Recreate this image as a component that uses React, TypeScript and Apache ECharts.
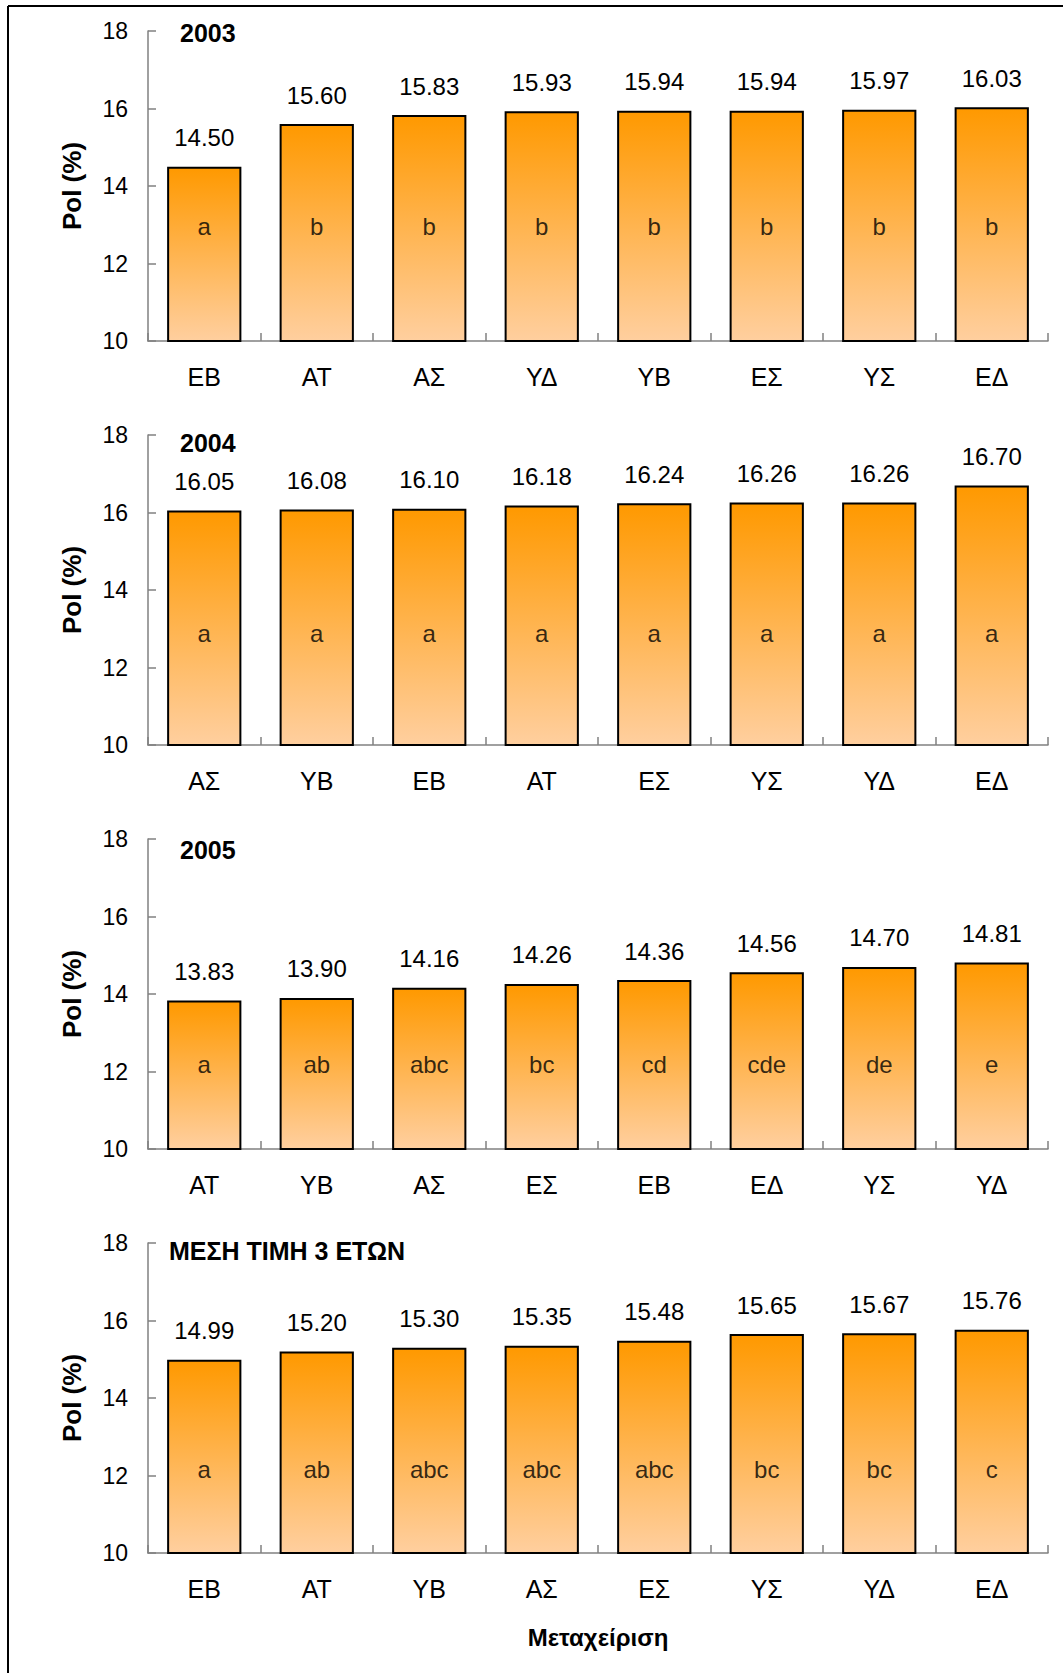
import React, { useEffect, useRef } from "react";
import * as echarts from "echarts";

const panelTitles = ["2003", "2004", "2005", "ΜΕΣΗ ΤΙΜΗ 3 ΕΤΩΝ"];

const categories2003 = ["ΕΒ", "ΑΤ", "ΑΣ", "ΥΔ", "ΥΒ", "ΕΣ", "ΥΣ", "ΕΔ"];
const values2003 = [14.5, 15.6, 15.83, 15.93, 15.94, 15.94, 15.97, 16.03];
const letters2003 = ["a", "b", "b", "b", "b", "b", "b", "b"];

const categories2004 = ["ΑΣ", "ΥΒ", "ΕΒ", "ΑΤ", "ΕΣ", "ΥΣ", "ΥΔ", "ΕΔ"];
const values2004 = [16.05, 16.08, 16.1, 16.18, 16.24, 16.26, 16.26, 16.7];
const letters2004 = ["a", "a", "a", "a", "a", "a", "a", "a"];

const categories2005 = ["ΑΤ", "ΥΒ", "ΑΣ", "ΕΣ", "ΕΒ", "ΕΔ", "ΥΣ", "ΥΔ"];
const values2005 = [13.83, 13.9, 14.16, 14.26, 14.36, 14.56, 14.7, 14.81];
const letters2005 = ["a", "ab", "abc", "bc", "cd", "cde", "de", "e"];

const categoriesMean = ["ΕΒ", "ΑΤ", "ΥΒ", "ΑΣ", "ΕΣ", "ΥΣ", "ΥΔ", "ΕΔ"];
const valuesMean = [14.99, 15.2, 15.3, 15.35, 15.48, 15.65, 15.67, 15.76];
const lettersMean = ["a", "ab", "abc", "abc", "abc", "bc", "bc", "c"];

const yMin = 10;
const yMax = 18;
const yInterval = 2;
const yAxisTitle = "Pol (%)";
const xAxisTitle = "Μεταχείριση";

const panelCategories = [categories2003, categories2004, categories2005, categoriesMean];
const panelValues = [values2003, values2004, values2005, valuesMean];
const panelLetters = [letters2003, letters2004, letters2005, lettersMean];

// layout (not data)
const GRID_TOPS = [31, 435, 839, 1243];
const GRID_HEIGHT = 310;
const LETTER_LEVEL = [12.95, 12.87, 12.18, 12.15];
const TITLE_LEFT = [180, 180, 180, 169];
const TITLE_TOP = [20, 430, 837, 1238];

const FONT = "'Liberation Sans', Arial, Helvetica, sans-serif";
const AXIS_GRAY = "#808080";

export default function App() {
  const ref = useRef<HTMLDivElement>(null);

  useEffect(() => {
    if (!ref.current) return;
    const chart = echarts.init(ref.current, undefined, { renderer: "svg" });

    const barColor = new echarts.graphic.LinearGradient(0, 0, 0, 1, [
      { offset: 0, color: "#FF9900" },
      { offset: 1, color: "#FFCF9F" },
    ]);

    const grids = GRID_TOPS.map((t) => ({ left: 148, right: 15, top: t, height: GRID_HEIGHT }));

    const xAxes = panelCategories.map((cats, i) => ({
      type: "category",
      gridIndex: i,
      data: cats,
      axisLine: { show: true, lineStyle: { color: AXIS_GRAY, width: 1.5 } },
      axisTick: { show: true, inside: true, length: 8, lineStyle: { color: AXIS_GRAY, width: 1.5 } },
      axisLabel: { margin: 23, fontSize: 25, color: "#000", fontFamily: FONT },
      ...(i === 3
        ? {
            name: xAxisTitle,
            nameLocation: "middle",
            nameGap: 72,
            nameTextStyle: { fontSize: 24, fontWeight: "bold", color: "#000", fontFamily: FONT },
          }
        : {}),
    }));

    const yAxes = panelCategories.map((_, i) => ({
      type: "value",
      gridIndex: i,
      min: yMin,
      max: yMax,
      interval: yInterval,
      axisLine: { show: true, lineStyle: { color: AXIS_GRAY, width: 1.5 } },
      axisTick: { show: true, inside: true, length: 8, lineStyle: { color: AXIS_GRAY, width: 1.5 } },
      axisLabel: { margin: 20, fontSize: 23, color: "#000", fontFamily: FONT },
      splitLine: { show: false },
      name: yAxisTitle,
      nameLocation: "middle",
      nameGap: 63,
      nameTextStyle: { fontSize: 26, fontWeight: "bold", color: "#000", fontFamily: FONT },
    }));

    const series: any[] = [];
    panelValues.forEach((vals, i) => {
      series.push({
        type: "bar",
        xAxisIndex: i,
        yAxisIndex: i,
        data: vals,
        barCategoryGap: "34%",
        itemStyle: { color: barColor, borderColor: "#000", borderWidth: 2 },
        label: {
          show: true,
          position: "top",
          distance: 17,
          fontSize: 24,
          color: "#000",
          fontFamily: FONT,
          formatter: (p: any) => Number(p.value).toFixed(2),
        },
        z: 2,
      });
      series.push({
        type: "scatter",
        xAxisIndex: i,
        yAxisIndex: i,
        data: panelLetters[i].map(() => LETTER_LEVEL[i]),
        symbolSize: 0,
        silent: true,
        label: {
          show: true,
          position: "inside",
          fontSize: 24,
          color: "#000",
          fontFamily: FONT,
          formatter: (p: any) => panelLetters[i][p.dataIndex],
        },
        z: 5,
      });
    });

    chart.setOption({
      animation: false,
      backgroundColor: "#fff",
      title: panelTitles.map((t, i) => ({
        text: t,
        left: TITLE_LEFT[i],
        top: TITLE_TOP[i],
        padding: 0,
        textStyle: { fontSize: 25, fontWeight: "bold", color: "#000", fontFamily: FONT },
      })),
      grid: grids,
      xAxis: xAxes,
      yAxis: yAxes,
      series,
      graphic: [
        { type: "line", shape: { x1: 8, y1: 6, x2: 1063, y2: 6 }, style: { stroke: "#000", lineWidth: 2 } },
        { type: "line", shape: { x1: 8, y1: 6, x2: 8, y2: 1673 }, style: { stroke: "#000", lineWidth: 2 } },
      ],
    });

    return () => chart.dispose();
  }, []);

  return (
    <div
      ref={ref}
      style={{ position: "absolute", left: 0, top: 0, width: 1063, height: 1673, background: "#fff" }}
    />
  );
}
